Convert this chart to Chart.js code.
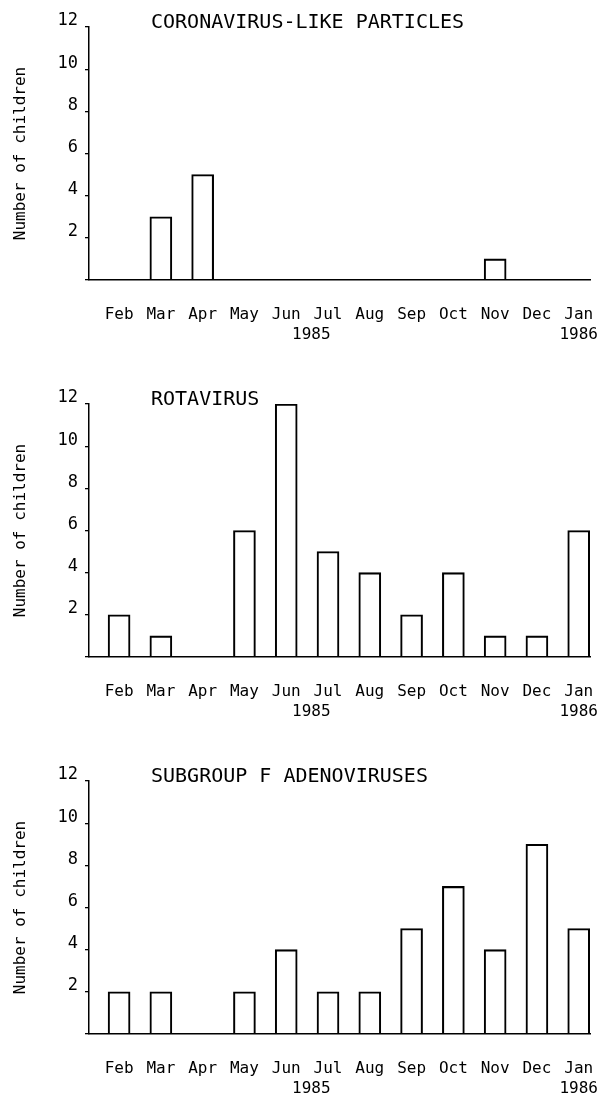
<!DOCTYPE html>
<html>
<head>
<meta charset="utf-8">
<title>Children by virus and month</title>
<script src="https://cdn.jsdelivr.net/npm/chart.js@4/dist/chart.umd.min.js"></script>
<style>
  html, body { margin: 0; padding: 0; background: #fff; overflow: hidden; }
  .panel { position: relative; width: 609px; height: 377px; }
</style>
</head>
<body>
<div class="panel"><canvas id="corona"></canvas></div>
<div class="panel"><canvas id="rota"></canvas></div>
<div class="panel"><canvas id="adeno"></canvas></div>
<script>
// months on the x axis, Feb 1985 .. Jan 1986
const months = ['Feb', 'Mar', 'Apr', 'May', 'Jun', 'Jul', 'Aug', 'Sep', 'Oct', 'Nov', 'Dec', 'Jan'];
const yearLabels = ['1985', '1986'];
const yearAt = [4.6, 11]; // month index the year sits under

const coronaCounts = [0, 3, 5, 0, 0, 0, 0, 0, 0, 1, 0, 0];
const rotaCounts   = [2, 1, 0, 6, 12, 5, 4, 2, 4, 1, 1, 6];
const adenoCounts  = [2, 2, 0, 2, 4, 2, 2, 5, 7, 4, 9, 5];

const yTicks = [0, 2, 4, 6, 8, 10, 12];

Chart.defaults.font.family = '"DejaVu Sans Mono", monospace';
Chart.defaults.color = '#000';

// panel heading, left aligned a bit right of the y axis
const panelTitle = {
  id: 'panelTitle',
  afterDraw(chart, args, opts) {
    const { ctx, chartArea } = chart;
    ctx.save();
    ctx.font = '20px "DejaVu Sans Mono", monospace';
    ctx.fillStyle = '#000';
    ctx.textBaseline = 'alphabetic';
    ctx.fillText(opts.text, chartArea.left + 62, chartArea.top + 1);
    ctx.restore();
  }
};

function makePanel(id, title, counts) {
  const ctx = document.getElementById(id).getContext('2d');
  return new Chart(ctx, {
    type: 'bar',
    data: {
      datasets: [{
        label: title,
        data: counts.map((v, i) => ({ x: i, y: v })),
        backgroundColor: 'rgba(0,0,0,0)',
        borderColor: '#000',
        borderWidth: 1.4,
        borderSkipped: 'start',
        barThickness: 22
      }]
    },
    options: {
      responsive: true,
      maintainAspectRatio: false,
      animation: false,
      layout: { padding: { top: 27, right: 19, left: 0, bottom: 0 } },
      plugins: {
        legend: { display: false },
        tooltip: { enabled: false },
        panelTitle: { text: title }
      },
      scales: {
        x: {
          type: 'linear',
          offset: false,
          min: -0.72,
          max: 11.27,
          afterBuildTicks: s => {
            s.ticks = months.map((m, i) => ({ value: i }))
              .concat(yearAt.filter(v => !Number.isInteger(v)).map(v => ({ value: v })))
              .sort((a, b) => a.value - b.value);
          },
          afterFit: s => { s.height = 97; s.paddingLeft = 0; s.paddingRight = 0; },
          grid: { display: false, drawTicks: false },
          border: { display: true, color: '#000', width: 1.5 },
          ticks: {
            autoSkip: false,
            maxRotation: 0,
            padding: 24,
            font: { size: 16, lineHeight: 1.3 },
            callback: v => {
              const yi = yearAt.indexOf(v);
              const month = Number.isInteger(v) ? months[v] : '';
              return yi >= 0 ? [month, yearLabels[yi]] : month;
            }
          }
        },
        y: {
          min: 0,
          max: 12,
          afterBuildTicks: s => { s.ticks = yTicks.map(v => ({ value: v })); },
          afterFit: s => { s.width = 89; },
          grid: { drawOnChartArea: false, drawTicks: true, tickLength: 4, color: '#000', lineWidth: 1.3 },
          border: { display: true, color: '#000', width: 1.5 },
          ticks: {
            padding: 7,
            labelOffset: -6,
            font: { size: 17 },
            callback: v => (v === 0 ? '' : v)
          },
          title: {
            display: true,
            text: 'Number of children',
            font: { size: 16 },
            padding: { top: 11, bottom: 0 }
          }
        }
      }
    },
    plugins: [panelTitle]
  });
}

makePanel('corona', 'CORONAVIRUS-LIKE PARTICLES', coronaCounts);
makePanel('rota', 'ROTAVIRUS', rotaCounts);
makePanel('adeno', 'SUBGROUP F ADENOVIRUSES', adenoCounts);
</script>
</body>
</html>
